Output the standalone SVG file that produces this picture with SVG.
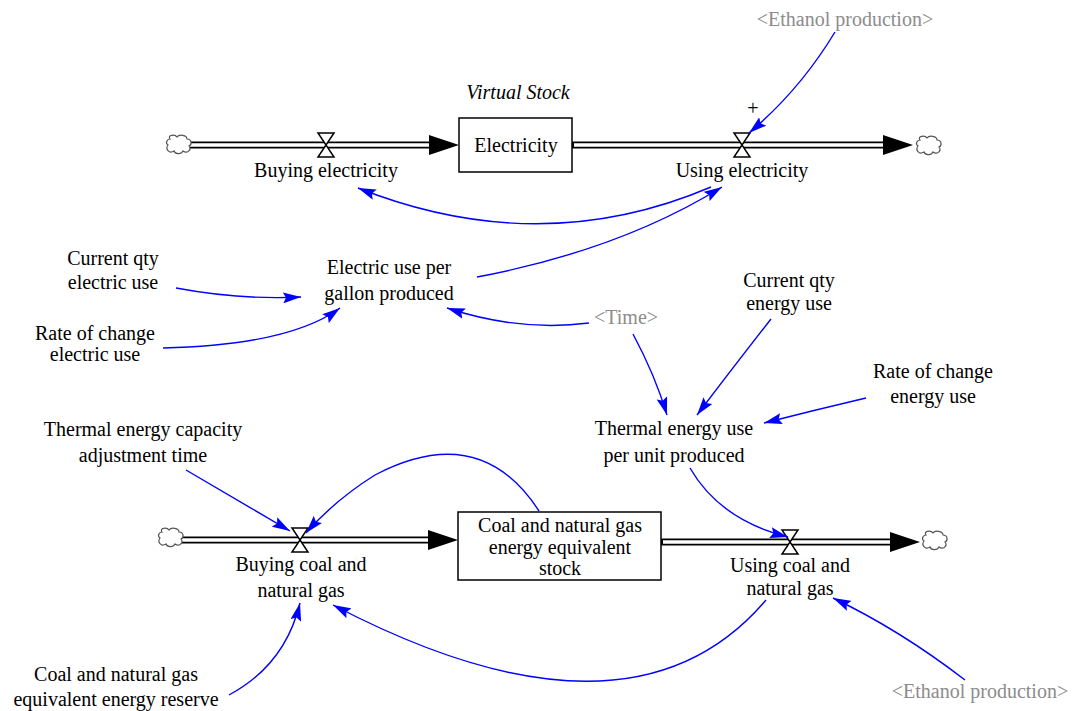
<svg xmlns="http://www.w3.org/2000/svg" width="1090" height="711" viewBox="0 0 1090 711">
<defs>
<marker id="ba" viewBox="0 0 18 11" refX="18" refY="5.5" markerWidth="18" markerHeight="11" markerUnits="userSpaceOnUse" orient="auto">
<path d="M0,0 L18,5.5 L0,11 L3,5.5 Z" fill="#0000ff"/>
</marker>
<path id="cloud" d="M-9,-6 C-12,-10 -4,-11 -2,-8 C0,-11 8,-10 8,-6 C13,-6 13,0 10,1 C13,5 8,9 4,6 C2,10 -4,9 -5,6 C-10,9 -14,4 -11,0 C-14,-2 -12,-6 -9,-6 Z"/>
</defs>
<style>
text{font-family:"Liberation Serif","Times New Roman",serif;font-size:20px;fill:#000;text-anchor:middle}
.g{fill:#8c8c8c}
.it{font-style:italic}
.pipeo{stroke:#000;stroke-width:7;fill:none}
.pipei{stroke:#fff;stroke-width:3.5;fill:none}
.valve{fill:#fff;stroke:#000;stroke-width:1.5}
.stock{fill:#fff;stroke:#000;stroke-width:1.5}
.cl{fill:#fff;stroke:#555;stroke-width:1.2}
.lk{fill:none;stroke:#0000ff;stroke-width:1.4;marker-end:url(#ba)}
</style>
<rect width="1090" height="711" fill="#fff"/>

<g id="pipes">
<path class="pipeo" d="M190,145 H432 M572,145 H888"/>
<path class="pipei" d="M188,145 H434 M574,145 H890"/>
<path d="M429,135 L459,145 L429,155 Z M883,135 L913,145 L883,155 Z" fill="#000"/>
<path class="pipeo" d="M182,540 H432 M661,542 H896"/>
<path class="pipei" d="M180,540 H434 M663,542 H898"/>
<path d="M428,530 L458,540 L428,550 Z M890,532 L920,542 L890,552 Z" fill="#000"/>
</g>

<g id="cloud-src-1"><use href="#cloud" class="cl" transform="translate(179,145)"/></g>
<g id="cloud-sink-1"><use href="#cloud" class="cl" transform="translate(929,146)"/></g>
<g id="cloud-src-2"><use href="#cloud" class="cl" transform="translate(171,538)"/></g>
<g id="cloud-sink-2"><use href="#cloud" class="cl" transform="translate(935,541)"/></g>

<g id="buying-electricity">
<path class="valve" d="M318,133 H334 L318,157 H334 Z"/>
<text x="326" y="177">Buying electricity</text>
</g>
<g id="electricity">
<text class="it" x="518" y="99">Virtual Stock</text>
<rect class="stock" x="459" y="118" width="113" height="54"/>
<text x="516" y="152">Electricity</text>
</g>
<g id="using-electricity">
<path class="valve" d="M734,133 H750 L734,157 H750 Z"/>
<text x="742" y="177">Using electricity</text>
<text x="753" y="115" font-size="15">+</text>
</g>
<g id="ethanol-top"><text class="g" x="845" y="26">&lt;Ethanol production&gt;</text></g>
<g id="electric-use"><text x="389" y="274">Electric use per</text><text x="389" y="300">gallon produced</text></g>
<g id="current-qty-electric"><text x="113" y="265">Current qty</text><text x="113" y="289">electric use</text></g>
<g id="rate-electric"><text x="95" y="340">Rate of change</text><text x="95" y="361">electric use</text></g>
<g id="time"><text class="g" x="626" y="324">&lt;Time&gt;</text></g>
<g id="current-qty-energy"><text x="789" y="287">Current qty</text><text x="789" y="310">energy use</text></g>
<g id="rate-energy"><text x="933" y="378">Rate of change</text><text x="933" y="403">energy use</text></g>
<g id="thermal-use"><text x="674" y="435">Thermal energy use</text><text x="674" y="462">per unit produced</text></g>
<g id="thermal-adj"><text x="143" y="436">Thermal energy capacity</text><text x="143" y="462">adjustment time</text></g>
<g id="buying-coal">
<path class="valve" d="M292,528 H308 L292,552 H308 Z"/>
<text x="301" y="571">Buying coal and</text><text x="301" y="597">natural gas</text>
</g>
<g id="coal-stock">
<rect class="stock" x="458" y="512" width="203" height="68"/>
<text x="560" y="532">Coal and natural gas</text><text x="560" y="554">energy equivalent</text><text x="560" y="575">stock</text>
</g>
<g id="using-coal">
<path class="valve" d="M782,530 H798 L782,554 H798 Z"/>
<text x="790" y="572">Using coal and</text><text x="790" y="595">natural gas</text>
</g>
<g id="coal-reserve"><text x="116" y="681">Coal and natural gas</text><text x="116" y="706">equivalent energy reserve</text></g>
<g id="ethanol-bottom"><text class="g" x="980" y="698">&lt;Ethanol production&gt;</text></g>

<g id="links">
<path class="lk" d="M835,32 Q800,90 749,133"/>
<path class="lk" d="M711,187 Q540,260 358,188"/>
<path class="lk" d="M477,277 Q620,250 722,187"/>
<path class="lk" d="M176,288 Q240,300 301,297"/>
<path class="lk" d="M163,348 Q290,345 340,308"/>
<path class="lk" d="M589,323 Q520,332 447,308"/>
<path class="lk" d="M633,334 Q655,375 667,415"/>
<path class="lk" d="M771,319 Q735,365 697,415"/>
<path class="lk" d="M866,398 Q815,410 764,423"/>
<path class="lk" d="M690,468 Q720,520 788,537"/>
<path class="lk" d="M186,470 L290,531"/>
<path class="lk" d="M539,511 Q480,420 375,475 Q335,500 306,533"/>
<path class="lk" d="M229,695 Q285,665 300,603"/>
<path class="lk" d="M766,600 Q630,760 333,605"/>
<path class="lk" d="M965,680 Q900,630 833,598"/>
</g>
</svg>
